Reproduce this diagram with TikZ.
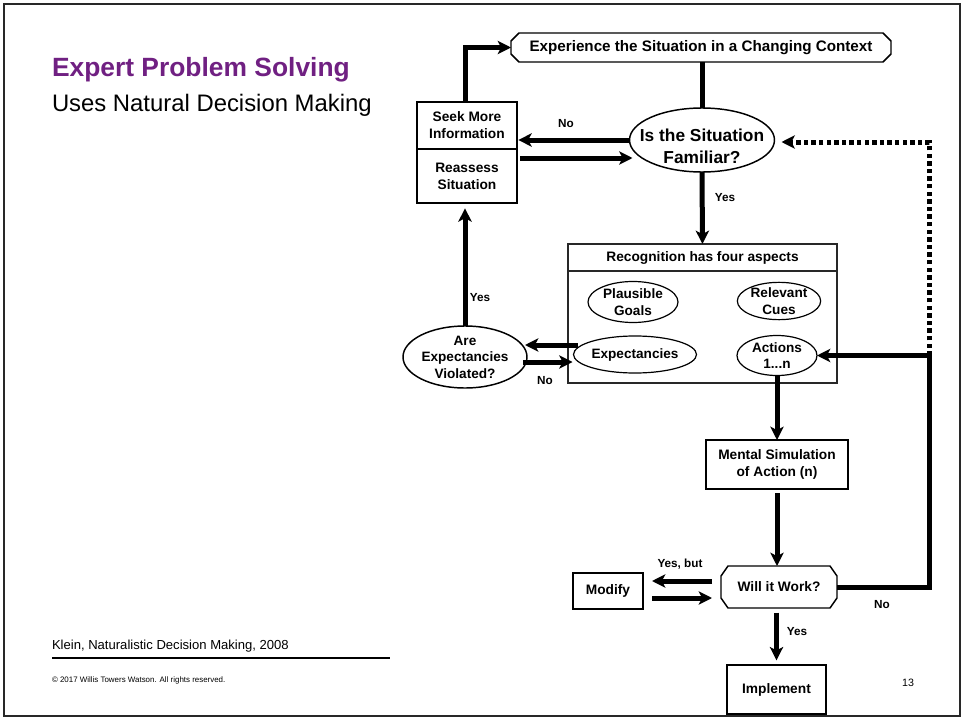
\documentclass[tikz,border=0pt]{standalone}
\usepackage{fontspec}
\setmainfont{Liberation Sans}
\usetikzlibrary{arrows.meta,shapes.geometric,calc}
\definecolor{wtwpurple}{RGB}{112,32,130}
\definecolor{framegray}{RGB}{40,40,40}

% outline with cut corners around a named rectangle node: #1 node, #2 cut in x, #3 cut in y
\newcommand{\cutcorners}[3]{%
  \draw[line width=1.1pt]
    ($(#1.north west)+(#2,0)$) -- ($(#1.north east)+(-#2,0)$)
    -- ($(#1.north east)+(0,#3)$) -- ($(#1.south east)+(0,-#3)$)
    -- ($(#1.south east)+(-#2,0)$) -- ($(#1.south west)+(#2,0)$)
    -- ($(#1.south west)+(0,-#3)$) -- ($(#1.north west)+(0,#3)$) -- cycle;}

\begin{document}
\begin{tikzpicture}[x=0.75pt,y=-0.75pt,
  every node/.style={inner sep=0pt, outer sep=0pt},
  boxfont/.style={font=\fontsize{10.3}{12.75}\selectfont\bfseries},
  ellfont/.style={font=\fontsize{10.2}{12.3}\selectfont\bfseries},
  stepbox/.style={draw, line width=1.5pt, rectangle, align=center, boxfont},
  chambox/.style={rectangle, align=center, boxfont},
  bigoval/.style={draw, line width=1.1pt, ellipse, align=center, ellfont},
  smalloval/.style={draw, line width=0.9pt, ellipse, align=center, ellfont},
  recpart/.style={draw=framegray, line width=1.1pt, rectangle, align=center, boxfont},
  lbl/.style={font=\fontsize{8.8}{10}\selectfont\bfseries},
  flow/.style={line width=3.75pt, line join=miter,
               -{Stealth[length=10pt,width=10pt,inset=2.6pt]}},
  plainflow/.style={line width=3.75pt, line join=miter},
  dotflow/.style={flow, dash pattern=on 3.3pt off 2.4pt},
]
% page area and frame
\useasboundingbox (0,0) rectangle (965,721);
\draw[line width=1.5pt, framegray] (4,4) rectangle (960,716);

% headings and footer
\node[anchor=base west, text=wtwpurple, font=\fontsize{19.8}{24}\selectfont\bfseries]
  (title) at (52,76) {Expert Problem Solving};
\node[anchor=base west, font=\fontsize{17.9}{22}\selectfont]
  (subtitle) at (52,111) {Uses Natural Decision Making};
\node[anchor=base west, font=\fontsize{9.8}{12}\selectfont]
  (source) at (52,649) {Klein, Naturalistic Decision Making, 2008};
\draw[line width=0.9pt] (52,658) -- (390,658);
\node[anchor=base west, font=\fontsize{5.95}{7}\selectfont]
  (copyright) at (52,682) {© 2017 Willis Towers Watson. All rights reserved.};
\node[anchor=base, font=\fontsize{8}{10}\selectfont]
  (pagenum) at (908,686) {13};

% flowchart nodes
\node[chambox, minimum width=285pt, minimum height=21.75pt,
      font=\fontsize{11.4}{13}\selectfont\bfseries]
  (top) at (701,47.5) {Experience the Situation in a Changing Context};
\cutcorners{top}{8}{8}
\node[bigoval, minimum width=108.75pt, minimum height=48pt] (fam) at (702,140) {};
\node[align=center, font=\fontsize{13}{16.5}\selectfont\bfseries]
  (famtext) at (702,146.5) {Is the Situation\\Familiar?};

\node[stepbox, minimum width=75pt, minimum height=35.25pt]
  (seek) at (467,125.5) {Seek More\\Information};
\node[stepbox, minimum width=75pt, minimum height=40.5pt]
  (reassess) at (467,176) {Reassess\\Situation};

\node[recpart, minimum width=201.75pt, minimum height=20.25pt]
  (rechead) at (702.5,257.5) {Recognition has four aspects};
\node[recpart, minimum width=201.75pt, minimum height=84pt]
  (recbody) at (702.5,327) {};
\node[smalloval, minimum width=67.5pt, minimum height=30.75pt]
  (plaus) at (633,302) {Plausible\\Goals};
\node[smalloval, minimum width=62.5pt, minimum height=27.5pt]
  (relev) at (779,301) {Relevant\\Cues};
\node[smalloval, minimum width=82.5pt, minimum height=27.75pt]
  (expect) at (635,354.5) {Expectancies};
\node[smalloval, minimum width=60pt, minimum height=30pt]
  (actions) at (777,355.5) {Actions\\1...n};

\node[bigoval, minimum width=93pt, minimum height=46.5pt]
  (areexp) at (465,357) {Are\\Expectancies\\Violated?};

\node[stepbox, minimum width=106.5pt, minimum height=36.75pt]
  (mental) at (777,464.5) {Mental Simulation\\of Action (n)};
\node[chambox, minimum width=87pt, minimum height=31.5pt]
  (will) at (779,587) {Will it Work?};
\cutcorners{will}{7}{10}
\node[stepbox, minimum width=52.5pt, minimum height=27pt]
  (modify) at (608,591) {Modify};
\node[stepbox, minimum width=74.25pt, minimum height=36.75pt]
  (impl) at (776.5,689.5) {Implement};

% connectors
\coordinate (loopx) at (929,0);
\draw[plainflow] (fam.north |- top.south) -- (fam.north);
\draw[flow, shorten >=1pt] (fam.west) -- (fam.west -| seek.east);
\draw[flow] ($(reassess.north east)+(3,9)$) -- ($(fam.west)+(3,18)$);
\draw[flow] (fam.south) -- (rechead.north);
\draw[flow, shorten >=4pt] (areexp.north) -- (areexp.north |- reassess.south);
\draw[flow] (seek.north -| areexp.north) |- (top.west);
\draw[flow] ($(expect.west)+(4,-9.5)$) -- ($(areexp.east)+(-2,-12)$);
\draw[flow] ($(areexp.east)+(-4,5)$) -- ($(expect.west)+(-1,7.5)$);
\draw[flow] (actions.south) -- (mental.north);
\draw[flow, shorten <=3pt] (mental.south) -- (mental.south |- will.north);
\draw[flow, shorten <=3.5pt, shorten >=3.5pt] (impl.north |- will.south) -- (impl.north);
\draw[flow] ($(will.west)+(-9,-6)$) -- ($(modify.east)+(9,-10)$);
\draw[flow] ($(modify.east)+(9,7)$) -- ($(will.west)+(-9,11)$);
\draw[flow] (will.east) -| (actions.east -| loopx) -- (actions.east);
\draw[dotflow] (actions.east -| loopx) |- ($(fam.east)+(7,2)$);

% branch labels
\node[lbl] (noseek) at (566,124) {No};
\node[lbl] (yesrec) at (725,198) {Yes};
\node[lbl] (yesre) at (480,298) {Yes};
\node[lbl] (noexp) at (545,381) {No};
\node[lbl] (noloop) at (882,605) {No};
\node[lbl] (yesimpl) at (797,632) {Yes};
\node[lbl] (yesbut) at (680,564) {Yes, but};
\end{tikzpicture}
\end{document}
